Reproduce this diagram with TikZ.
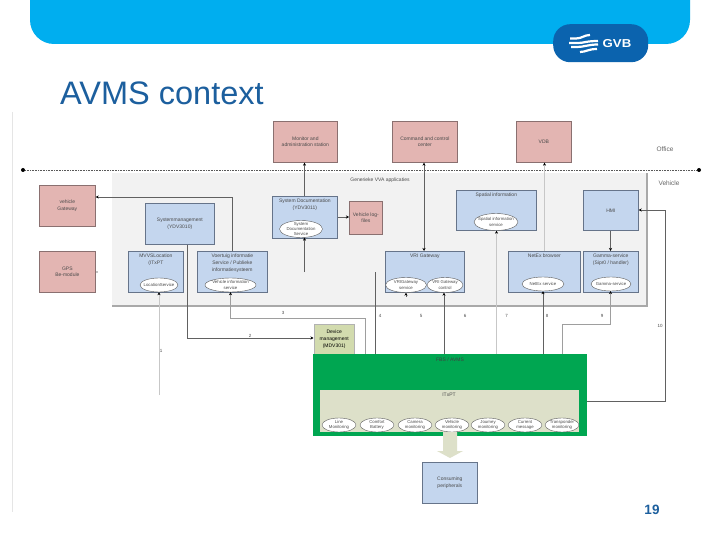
\documentclass[tikz,border=0pt]{standalone}
\usepackage{fontspec}
\setmainfont{Liberation Sans}
\usetikzlibrary{arrows.meta,shapes.geometric,calc}
\definecolor{band}{HTML}{00AEEF}
\definecolor{gvb}{HTML}{0B63AE}
\definecolor{titleblue}{HTML}{1C5F9E}
\definecolor{bluefill}{HTML}{C4D6EE}
\definecolor{blueedge}{HTML}{66748A}
\definecolor{redfill}{HTML}{E3B5B2}
\definecolor{rededge}{HTML}{8A7070}
\definecolor{panel}{HTML}{F2F2F2}
\definecolor{paneledge}{HTML}{A9A9A9}
\definecolor{fbsgreen}{HTML}{00A651}
\definecolor{itx}{HTML}{DDE0C9}
\definecolor{dev}{HTML}{D2DBAE}
\definecolor{txt}{HTML}{4A4A4A}
\tikzset{
  tiny text/.style={font=\fontsize{5}{6.6}\selectfont,text=txt,align=center,inner sep=0pt},
  bluebox/.style={draw=blueedge,line width=.7pt,fill=bluefill,inner sep=0pt},
  redbox/.style={draw=rededge,line width=.7pt,fill=redfill,tiny text},
  svc/.style={ellipse,draw=black!65,line width=.4pt,fill=white,align=center,text=txt,font=\fontsize{4.3}{5.2}\selectfont,inner sep=-4pt},
  conn/.style={draw=black!62,line width=.6pt},
  lightconn/.style={draw=black!22,line width=.6pt},
  midconn/.style={draw=black!38,line width=.7pt},
  tip/.style={-{Stealth[length=3pt,width=3pt,black]}},
  numlab/.style={font=\fontsize{4.5}{5}\selectfont,text=txt,inner sep=0pt},
}
\newcommand{\bx}[6]{\node[#1,minimum width=#4 pt,minimum height=#5 pt,anchor=north west] (#2) at (#3) {#6};}
\begin{document}
\begin{tikzpicture}[x=1pt,y=-1pt]
\fill[white] (0,0) rectangle (720,540);
% slide furniture
\begin{scope}
\clip (0,0) rectangle (720,540);
\fill[band,rounded corners=24pt] (30,-40) rectangle (690,44);
\end{scope}
\node[fill=gvb,rounded corners=17pt,minimum width=95pt,minimum height=38pt,inner sep=0pt,anchor=north west] (logo) at (553,24) {};
\begin{scope}[line width=2.2pt,white]
\draw (570,38.5) -- (576,38.5) .. controls (582,38.5) and (584,35) .. (590,35);
\draw (569,43) -- (578,43) .. controls (584,43) and (586,41) .. (598,41);
\draw (571,47) -- (577,47) .. controls (584,47) and (588,44.5) .. (598,44.5);
\draw (580,52) .. controls (586,52) and (588,49) .. (597,49);
\end{scope}
\node[font=\bfseries\fontsize{11.5}{12}\selectfont,text=white,xscale=1.15,inner sep=0pt] (gvbtext) at (617,44) {GVB};
\node[font=\fontsize{32.5}{34}\selectfont,text=titleblue,anchor=base west,inner sep=0pt] (title) at (60,105) {AVMS context};
\node[font=\bfseries\fontsize{13.5}{14}\selectfont,text=titleblue,inner sep=0pt] (pageno) at (652,510) {19};
\draw[black!10,line width=1pt] (12.5,112) -- (12.5,512);
% panel
\fill[panel] (112,173) rectangle (647,306);
\draw[paneledge,line width=1.2pt] (112,306) -- (647,306) -- (647,173);
% office row
\bx{redbox}{monitor}{273,121}{64}{41}{Monitor and\\administration station}
\bx{redbox}{command}{392,121}{65}{41}{Command and control\\center}
\bx{redbox}{vdb}{516,121}{55}{41}{VDB}
\node[font=\fontsize{6.5}{7}\selectfont,text=black!60,inner sep=0pt] (office) at (665,149) {Office};
\node[font=\fontsize{6.5}{7}\selectfont,text=black!60,inner sep=0pt] (vehicle) at (669,183) {Vehicle};
\node[tiny text] (generic) at (380,180.5) {Generieke VVA applicaties};
% separator
\node[circle,fill=black,inner sep=0pt,minimum size=4pt] (dotl) at (23,170) {};
\node[circle,fill=black,inner sep=0pt,minimum size=4pt] (dotr) at (699,170) {};
\draw[black!65,densely dotted,line width=.6pt] (dotl) -- (dotr);
% left
\bx{redbox}{gateway}{39,185}{56}{41}{vehicle\\Gateway}
\bx{redbox}{gps}{39,251}{56}{41}{GPS\\Be-module}
% blue boxes
\bx{bluebox}{sysman}{145,203}{69}{41}{}
\node[tiny text] at (sysman.center) {Systemmanagement\\(YDV3010)};
\bx{bluebox}{mvvs}{128,251}{55}{41}{}
\node[tiny text,anchor=north] at ($(mvvs.north)+(0,3)$) {MVVSLocation\\(ITxPT};
\bx{bluebox}{vervoer}{197,251}{70}{41}{}
\node[tiny text,anchor=north] at ($(vervoer.north)+(0,3)$) {Voertuig informatie\\Service / Publieke\\informatiesysteem};
\bx{bluebox}{sysdoc}{272,196}{65}{42}{}
\node[tiny text,anchor=north] at ($(sysdoc.north)+(0,3)$) {System Documentation\\(YDV3011)};
\bx{redbox}{logfiles}{349,201}{33}{33}{Vehicle log-\\files}
\bx{bluebox}{spatial}{456,190}{80}{40}{}
\node[tiny text,anchor=north] at ($(spatial.north)+(0,3)$) {Spatial information};
\bx{bluebox}{hmi}{583,190}{55}{40}{}
\node[tiny text] at (hmi.center) {HMI};
\bx{bluebox}{vri}{385,251}{79}{41}{}
\node[tiny text,anchor=north] at ($(vri.north)+(0,3)$) {VRI Gateway};
\bx{bluebox}{netex}{508,251}{72}{41}{}
\node[tiny text,anchor=north] at ($(netex.north)+(0,3)$) {NetEx browser};
\bx{bluebox}{gamma}{583,251}{55}{41}{}
\node[tiny text,anchor=north] at ($(gamma.north)+(0,3)$) {Gamma-service\\(Sipr0 / handler)};
% services
\node[svc,minimum width=38pt,minimum height=14pt] (locsvc) at (159,285) {LocationService};
\node[svc,minimum width=51pt,minimum height=14pt] (vehsvc) at (230.5,285) {Vehicle information\\service};
\node[svc,minimum width=43pt,minimum height=17pt] (docsvc) at (301,229) {System\\Documentation\\Service};
\node[svc,minimum width=44pt,minimum height=17pt] (spatsvc) at (496,222) {Spatial information\\service};
\node[svc,minimum width=41pt,minimum height=15pt] (vrisvc) at (406,285) {VRIGateway\\service};
\node[svc,minimum width=36pt,minimum height=15pt] (vrictl) at (445,285) {VRI Gateway\\control};
\node[svc,minimum width=42pt,minimum height=14pt] (netsvc) at (543,284) {NetEx service};
\node[svc,minimum width=40pt,minimum height=14pt] (gamsvc) at (611,284) {Gamma-service};
% device + FBS
\node[draw=black!30,line width=1.3pt,fill=dev,minimum width=40pt,minimum height=31pt,anchor=north west,inner sep=0pt,font=\fontsize{5}{7}\selectfont,align=center] (device) at (313.5,323.5) {Device\\management\\(MDV301)};
\bx{fill=fbsgreen,inner sep=0pt}{fbs}{313,354}{274}{82}{}
\node[tiny text,text=black!75] (fbstext) at (450,360) {FBS / AVMS};
\bx{fill=itx,inner sep=0pt}{itxpt}{320,390}{259}{42}{}
\node[tiny text] (itxtext) at (449,394.5) {ITxPT};
\foreach \nm/\cx/\lab in {line/339/{Line\\Monitoring},comfort/377/{Comfort\\Battery},camera/415/{Camera\\monitoring},vehmon/452/{Vehicle\\monitoring},journey/488/{Journey\\monitoring},current/525/{Current\\message},transp/562/{Transponder\\monitoring}}{
  \node[svc,minimum width=34pt,minimum height=14pt] (\nm) at (\cx,425) {\lab};
}
\bx{draw=blueedge,line width=.7pt,fill=bluefill,tiny text}{consume}{422,462}{55}{41}{Consuming\\peripherals}
\fill[itx] (443,432) -- (457,432) -- (457,451) -- (463,451) -- (450,458) -- (437,451) -- (443,451) -- cycle;
% free ends
\coordinate (loc end) at (159,395);
\coordinate (doc end) at (304.5,272);
\coordinate (four end) at (375.5,272);
\coordinate (vrisvc end) at (406,297);
\coordinate (fbsr) at (587,401);
% connectors
\draw[conn,tip] (sysdoc.north -| 304.5,0) -- (monitor.south -| 304.5,0);
\draw[conn,tip] (sysdoc.east |- 0,217) -- (logfiles.west |- 0,217);
\draw[conn,tip] (doc end) -- (docsvc.south -| doc end);
\draw[conn] (fbs.north -| four end) -- (four end);
\draw[conn,{Stealth[length=3pt,width=3pt,black]}-{Stealth[length=3pt,width=3pt,black]}] (command.south -| 424,0) -- (vri.north -| 424,0);
\draw[lightconn,tip] (netex.north -| 544.5,0) -- (vdb.south -| 544.5,0);
\draw[lightconn,tip] (fbs.north -| 496.5,0) -- (spatsvc.south -| 496.5,0);
\draw[conn,tip] (hmi.south -| 610.5,0) -- (gamma.north -| 610.5,0);
\draw[conn,tip] (vervoer.north -| 232,0) -- (232,197) -- (gateway.east |- 0,197);
\draw[conn,tip] (sysman.south -| 187,0) -- (187,338) -- (device.west |- 0,338);
\draw[lightconn,tip] (loc end) -- (locsvc.south);
\draw[midconn,tip] (365,354) -- (365,318) -- (230.5,318) -- (vehsvc.south);
\draw[conn,tip] (vrisvc end) -- (vri.south -| vrisvc end);
\draw[conn,tip] (fbs.north -| 444,0) -- (vrictl.south -| 444,0);
\draw[conn,tip] (fbs.north -| netsvc.south) -- (netsvc.south);
\draw[midconn,tip] (562.5,354) -- (562.5,324) -- (610.5,324) -- (610.5,291);
\draw[conn,tip] (fbsr) -- (665.5,401) -- (665.5,210) -- (hmi.east |- 0,210);
\fill[black] (97,272) circle (.7pt);
% numbers
\node[numlab] at (161,351) {1};
\node[numlab] at (250,336) {2};
\node[numlab] at (283,312.5) {3};
\node[numlab] at (380,316) {4};
\node[numlab] at (421,316) {5};
\node[numlab] at (465,316) {6};
\node[numlab] at (506.5,316) {7};
\node[numlab] at (547,315.5) {8};
\node[numlab] at (602,316) {9};
\node[numlab] at (660,326) {10};
\useasboundingbox (0,0) rectangle (720,540);
\end{tikzpicture}
\end{document}
